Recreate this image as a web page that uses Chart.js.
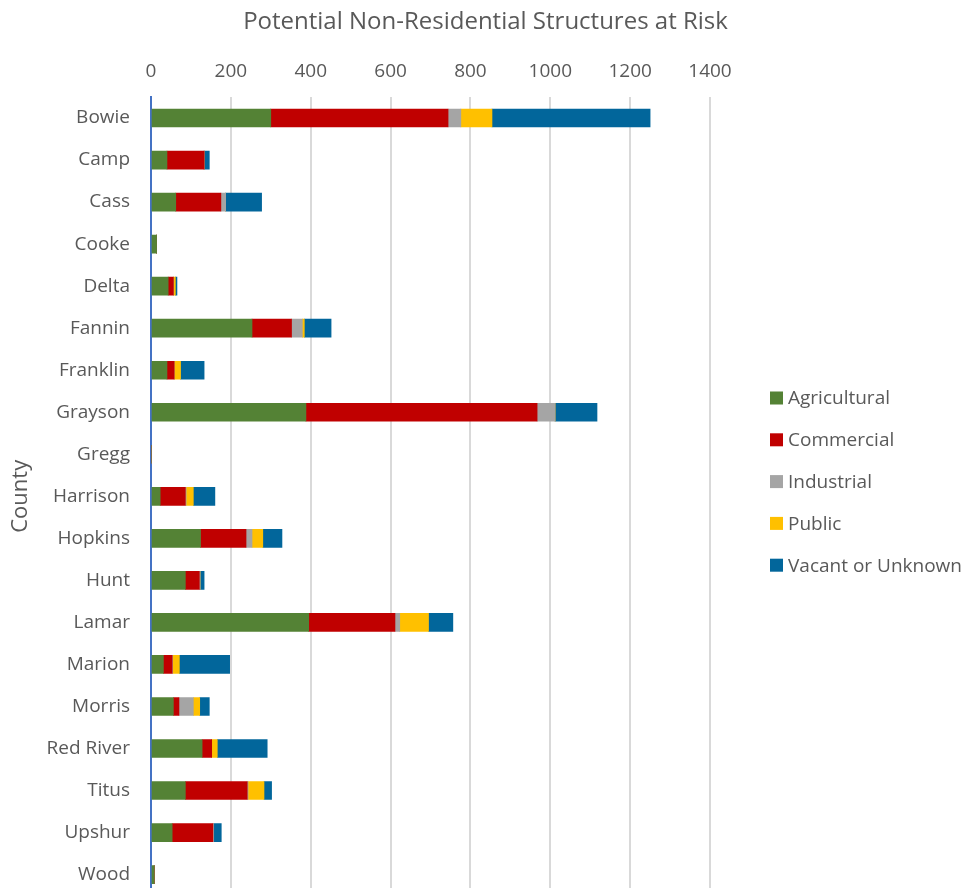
<!DOCTYPE html>
<html>
<head>
<meta charset="utf-8">
<title>Potential Non-Residential Structures at Risk</title>
<script src="https://cdn.jsdelivr.net/npm/chart.js@4.4.1/dist/chart.umd.min.js"></script>
<style>
  html, body { margin: 0; padding: 0; background: #ffffff; overflow: hidden; }
  #wrap { width: 971px; height: 928px; position: relative; }
</style>
</head>
<body>
<div id="wrap"><canvas id="chart" width="971" height="928"></canvas></div>
<script>
// Counties along the category axis
const counties = ["Bowie", "Camp", "Cass", "Cooke", "Delta", "Fannin", "Franklin", "Grayson", "Gregg",
  "Harrison", "Hopkins", "Hunt", "Lamar", "Marion", "Morris", "Red River", "Titus", "Upshur", "Wood"];

// Structure counts per county, one array per structure type
const agricultural = [300, 40, 62, 14, 43, 253, 40, 388, 0, 23, 124, 86, 395, 31, 56, 128, 86, 53, 8];
const commercial   = [444, 93, 113, 0, 13, 99, 18, 579, 0, 63, 114, 35, 216, 22, 14, 24, 155, 102, 0];
const industrial   = [32, 0, 12, 0, 0, 27, 0, 45, 0, 2, 15, 2, 12, 1, 36, 0, 2, 2, 0];
const publicUse    = [78, 0, 0, 0, 5, 5, 16, 0, 0, 18, 27, 0, 72, 17, 16, 14, 40, 0, 0];
const vacant       = [396, 13, 90, 0, 4, 67, 59, 105, 0, 54, 48, 10, 61, 126, 24, 125, 19, 19, 0];

// Value axis ticks
const xTicks = [0, 200, 400, 600, 800, 1000, 1200, 1400];

const seriesNames = ["Agricultural", "Commercial", "Industrial", "Public", "Vacant or Unknown"];
const seriesColors = ["#548235", "#C00000", "#A5A5A5", "#FFC000", "#02669B"];
const seriesValues = [agricultural, commercial, industrial, publicUse, vacant];

const TEXT = "#595959";
const FONT = "'Open Sans', 'Noto Sans', sans-serif";

// Legend drawn to the right of the plot, stacked vertically
const sideLegend = {
  id: "sideLegend",
  afterDraw(chart) {
    const ctx = chart.ctx;
    const x0 = 770, y0 = 398, step = 41.8, box = 13;
    ctx.save();
    ctx.font = "19px " + FONT;
    ctx.textBaseline = "middle";
    ctx.textAlign = "left";
    chart.data.datasets.forEach((ds, i) => {
      const y = y0 + i * step;
      ctx.fillStyle = ds.backgroundColor;
      ctx.fillRect(x0, y - box / 2, box, box);
      ctx.fillStyle = TEXT;
      ctx.fillText(ds.label, x0 + 18, y + 1);
    });
    ctx.restore();
  }
};

new Chart(document.getElementById("chart"), {
  type: "bar",
  data: {
    labels: counties,
    datasets: seriesNames.map((name, i) => ({
      label: name,
      data: seriesValues[i],
      backgroundColor: seriesColors[i],
      borderWidth: 0,
      barThickness: 18
    }))
  },
  options: {
    indexAxis: "y",
    responsive: false,
    animation: false,
    layout: { autoPadding: false, padding: { left: 0, right: 0, top: 0, bottom: 1 } },
    plugins: {
      legend: { display: false },
      tooltip: { enabled: false },
      title: {
        display: true,
        text: "Potential Non-Residential Structures at Risk",
        color: TEXT,
        font: { family: FONT, size: 24, weight: "normal" },
        padding: { top: 8, bottom: 2 }
      }
    },
    scales: {
      x: {
        position: "top",
        stacked: true,
        min: 0,
        max: 1400,
        afterBuildTicks(scale) { scale.ticks = xTicks.map(v => ({ value: v })); },
        afterFit(scale) { scale.height = 97 - 8 - 2 - 24 * 1.2; },
        ticks: {
          color: TEXT,
          font: { family: FONT, size: 19 },
          padding: 14,
          maxRotation: 0,
          callback: v => String(v)
        },
        grid: { color: "#d9d9d9", lineWidth: 2, drawTicks: false },
        border: { display: false }
      },
      y: {
        stacked: true,
        afterFit(scale) { scale.width = 151; },
        ticks: {
          color: TEXT,
          font: { family: FONT, size: 19 },
          padding: 21,
          autoSkip: false
        },
        grid: { display: false, drawTicks: false },
        border: { display: true, color: "#4472C4", width: 2 },
        title: {
          display: true,
          text: "County",
          color: TEXT,
          font: { family: FONT, size: 22 },
          padding: { top: 8, bottom: 0 }
        }
      },
      // empty right-hand band that holds the legend
      legendBand: {
        type: "category",
        position: "right",
        afterFit(scale) { scale.width = 261; },
        ticks: { display: false },
        grid: { display: false, drawTicks: false },
        border: { display: false }
      }
    }
  },
  plugins: [sideLegend]
});
</script>
</body>
</html>
